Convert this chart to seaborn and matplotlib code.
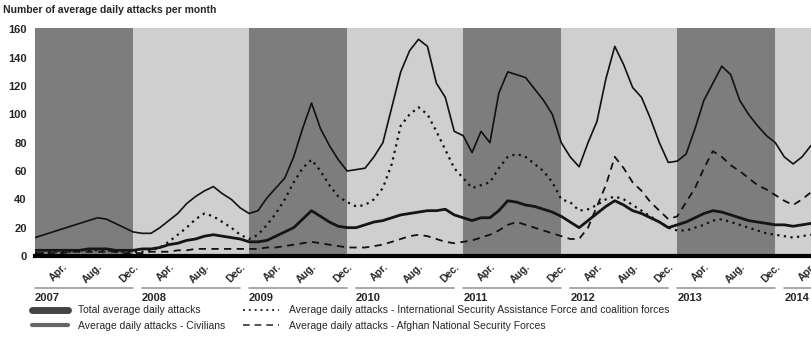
import numpy as np
import pandas as pd
import matplotlib.pyplot as plt
import seaborn as sns
from matplotlib.lines import Line2D

# Monthly values, Jan 2007 .. Apr 2014
years = [2007, 2008, 2009, 2010, 2011, 2012, 2013, 2014]
month_ticks = ["Apr.", "Aug.", "Dec."]

total = [13, 15, 17, 19, 21, 23, 25, 27, 26, 23, 20, 17,
         16, 16, 20, 25, 30, 37, 42, 46, 49, 44, 40, 34,
         30, 32, 41, 48, 55, 70, 90, 108, 90, 78, 68, 60,
         61, 62, 70, 80, 105, 130, 145, 153, 148, 122, 112, 88,
         85, 73, 88, 80, 115, 130, 128, 126, 118, 110, 100, 80,
         70, 63, 80, 95, 125, 148, 135, 119, 112, 97, 80, 66,
         67, 72, 90, 110, 122, 134, 128, 110, 100, 92, 85, 80,
         70, 65, 70, 78]
civilians = [4, 4, 4, 4, 4, 4, 5, 5, 5, 4, 4, 4,
             5, 5, 6, 8, 9, 11, 12, 14, 15, 14, 13, 12,
             10, 10, 11, 14, 17, 20, 26, 32, 28, 24, 21, 20,
             20, 22, 24, 25, 27, 29, 30, 31, 32, 32, 33, 29,
             27, 25, 27, 27, 32, 39, 38, 36, 35, 33, 31, 28,
             24, 20, 25, 30, 35, 39, 36, 32, 30, 27, 24, 20,
             22, 24, 27, 30, 32, 31, 29, 27, 25, 24, 23, 22,
             22, 21, 22, 23]
isaf = [2, 2, 3, 3, 3, 4, 4, 4, 4, 3, 3, 3,
        3, 4, 6, 10, 15, 20, 26, 30, 28, 24, 20, 15,
        12, 15, 22, 30, 40, 52, 62, 68, 60, 50, 42, 38,
        35, 36, 40, 48, 65, 92, 100, 105, 100, 88, 75, 62,
        55, 48, 50, 52, 62, 70, 72, 70, 65, 60, 52, 40,
        38, 32, 33, 36, 40, 42, 40, 36, 32, 28, 24, 20,
        18, 18, 20, 22, 25, 26, 24, 22, 20, 18, 16, 15,
        14, 13, 14, 15]
ansf = [2, 2, 2, 2, 3, 3, 3, 3, 3, 3, 2, 2,
        2, 3, 3, 3, 4, 4, 5, 5, 5, 5, 5, 5,
        5, 5, 6, 6, 7, 8, 9, 10, 9, 8, 7, 6,
        6, 6, 7, 8, 10, 12, 14, 15, 14, 12, 10, 9,
        10, 11, 13, 15, 18, 22, 24, 22, 20, 18, 16, 14,
        12, 12, 20, 35, 50, 70, 62, 52, 46, 38, 32, 26,
        28, 38, 48, 62, 74, 70, 64, 60, 55, 50, 47, 43,
        39, 36, 40, 45]

df = pd.DataFrame({"month": np.arange(len(total)), "total": total,
                   "civilians": civilians, "isaf": isaf, "ansf": ansf})

sns.set_style("white")
plt.rcParams['font.family'] = ['Liberation Sans', 'DejaVu Sans']

fig = plt.figure(figsize=(8.11, 3.37), dpi=100)
ax = fig.add_axes([0.0432, 0.2404, 0.9568, 0.6766])

# alternating year bands
band_edges = [0, 11, 24, 35, 48, 59, 72, 83, 88]
for i in range(len(band_edges) - 1):
    ax.axvspan(band_edges[i], band_edges[i + 1],
               color='#7d7d7d' if i % 2 == 0 else '#cfcfcf', lw=0, zorder=0)

sns.lineplot(data=df, x="month", y="total", ax=ax, color='#111111', lw=1.2, zorder=3)
sns.lineplot(data=df, x="month", y="isaf", ax=ax, color='#111111', lw=1.6,
             linestyle=(0, (1, 2)), zorder=3)
sns.lineplot(data=df, x="month", y="civilians", ax=ax, color='#151515', lw=2.0, zorder=3)
sns.lineplot(data=df, x="month", y="ansf", ax=ax, color='#111111', lw=1.3,
             linestyle=(0, (4, 3)), zorder=3)

ax.set_xlim(0, 87)
ax.set_ylim(0, 161)
ax.set_yticks(range(0, 161, 20))
ax.set_yticklabels([str(v) for v in range(0, 161, 20)], fontsize=8, fontweight='bold')
ax.tick_params(axis='y', length=0, pad=6)

ticks = [12 * k + off for k in range(len(years)) for off in (3, 7, 11) if 12 * k + off <= 87]
ax.set_xticks(ticks)
ax.set_xticklabels([month_ticks[i % 3] for i in range(len(ticks))], fontsize=7.5,
                   fontweight='bold', rotation=45, ha='right', rotation_mode='anchor')
ax.tick_params(axis='x', length=0, pad=4)
ax.set_xlabel("")
ax.set_ylabel("")

for s in ['top', 'right', 'left']:
    ax.spines[s].set_visible(False)
ax.spines['bottom'].set_linewidth(3)
ax.spines['bottom'].set_color('black')
ax.spines['bottom'].set_zorder(5)

# year lines and labels under the month ticks
trans = ax.get_xaxis_transform()
for k, yr in enumerate(years):
    x0 = 12 * k
    x1 = min(12 * k + 11, 87)
    ax.plot([x0, x1], [-0.14, -0.14], transform=trans, color='#999999', lw=1.2, clip_on=False)
    ax.text(x0, -0.185, str(yr), transform=trans, fontsize=8, fontweight='bold',
            ha='left', va='center')

fig.text(0.004, 1 - 10 / 337, "Number of average daily attacks per month",
         fontsize=7.5, fontweight='bold', va='center', ha='left')

h1 = [Line2D([], [], color='#444444', lw=5),
      Line2D([], [], color='#666666', lw=3)]
h2 = [Line2D([], [], color='#333333', lw=1.4, linestyle=(0, (1, 2))),
      Line2D([], [], color='#333333', lw=1.2, linestyle=(0, (4, 3)))]
leg_kw = dict(loc='upper left', frameon=False, fontsize=7.5, handlelength=3.4,
              handletextpad=1.0, labelspacing=0.5, borderaxespad=0, borderpad=0)
fig.legend(h1, ["Total average daily attacks", "Average daily attacks - Civilians"],
           bbox_to_anchor=(0.040, 0.094), **leg_kw)
fig.legend(h2, ["Average daily attacks - International Security Assistance Force and coalition forces",
                "Average daily attacks - Afghan National Security Forces"],
           bbox_to_anchor=(0.300, 0.094), **leg_kw)

fig.savefig("out.png", dpi=100)
